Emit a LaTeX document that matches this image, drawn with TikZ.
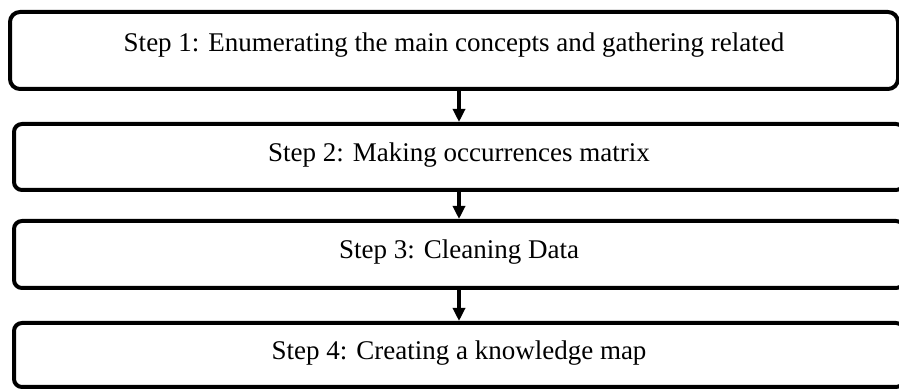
\documentclass[tikz,border=0pt]{standalone}
\usepackage{fontspec}
\setmainfont{Liberation Serif}
\usetikzlibrary{arrows.meta,positioning}

\begin{document}
\begin{tikzpicture}[x=0.5pt, y=-0.5pt,
  stepbox/.style={draw, line width=2pt, rounded corners=4pt, minimum width=445pt,
    minimum height=33pt, inner sep=0pt, font=\fontsize{13.5}{16}\selectfont,
    text height=9.5pt, text depth=5.1pt},
  arr/.style={-{Triangle[length=6.5pt, width=6pt]}, line width=1.6pt}]
  \useasboundingbox (0,0) rectangle (899,389);
  \clip (0,0) rectangle (899,389);
  % the four steps
  \node[stepbox, minimum width=444pt, minimum height=38.5pt, rounded corners=5pt, text depth=8.6pt] (step1) at (454,50.5) {Step 1: Enumerating the main concepts and gathering related};
  \node[stepbox] (step2) at (459,157) {Step 2: Making occurrences matrix};
  \node[stepbox, minimum height=33.5pt] (step3) at (459,254.5) {Step 3: Cleaning Data};
  \node[stepbox, minimum height=32pt] (step4) at (459,355) {Step 4: Creating a knowledge map};
  % arrows between the steps
  \foreach \a/\b in {step1/step2, step2/step3, step3/step4}
    \draw[arr] (\b.north |- \a.south) -- (\b.north);
\end{tikzpicture}
\end{document}
